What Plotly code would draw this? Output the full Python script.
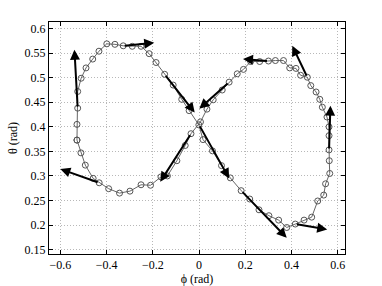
import plotly.graph_objects as go

# path samples (phi, theta) in rad
phi = [-0.528, -0.528, -0.525, -0.525, -0.510, -0.489, -0.460, -0.433, -0.399, -0.364,
       -0.328, -0.289, -0.251, -0.216, -0.186, -0.149, -0.112, -0.075, -0.043, -0.001,
       0.017, 0.058, 0.097, 0.135, 0.182, 0.219, 0.259, 0.302, 0.344, 0.379,
       0.416, 0.454, 0.487, 0.513, 0.539, 0.547, 0.565, 0.563, 0.562, 0.562,
       0.562, 0.553, 0.533, 0.522, 0.506, 0.483, 0.468, 0.439, 0.419, 0.392,
       0.365, 0.330, 0.300, 0.262, 0.223, 0.192, 0.165, 0.130, 0.100, 0.061,
       0.034, 0.006, -0.035, -0.060, -0.096, -0.137, -0.165, -0.210, -0.251, -0.299,
       -0.344, -0.391, -0.432, -0.458, -0.492, -0.511, -0.528]
theta = [0.373, 0.405, 0.438, 0.472, 0.499, 0.520, 0.538, 0.554, 0.569, 0.568,
         0.565, 0.564, 0.564, 0.549, 0.531, 0.507, 0.485, 0.456, 0.433, 0.404,
         0.374, 0.351, 0.321, 0.296, 0.270, 0.253, 0.231, 0.219, 0.210, 0.195,
         0.202, 0.210, 0.216, 0.249, 0.261, 0.284, 0.305, 0.331, 0.353, 0.382,
         0.400, 0.420, 0.440, 0.456, 0.471, 0.484, 0.501, 0.505, 0.519, 0.520,
         0.535, 0.535, 0.534, 0.533, 0.533, 0.517, 0.508, 0.491, 0.475, 0.455,
         0.436, 0.410, 0.386, 0.362, 0.331, 0.300, 0.298, 0.281, 0.282, 0.269,
         0.265, 0.274, 0.286, 0.295, 0.322, 0.347, 0.373]

# velocity arrows: tail (phi, theta) -> tip (phi, theta)
arrow_tail_phi = [-0.525, -0.328, -0.149, 0.130, 0.300, 0.468, 0.562, 0.416, 0.182, 0.000, -0.432, -0.035]
arrow_tail_theta = [0.438, 0.565, 0.507, 0.491, 0.534, 0.501, 0.353, 0.202, 0.270, 0.404, 0.286, 0.386]
arrow_tip_phi = [-0.539, -0.194, -0.019, 0.001, 0.190, 0.403, 0.568, 0.554, 0.379, 0.130, -0.600, -0.168]
arrow_tip_theta = [0.557, 0.571, 0.429, 0.437, 0.538, 0.565, 0.443, 0.191, 0.174, 0.295, 0.314, 0.288]

x_ticks = [-0.6, -0.4, -0.2, 0, 0.2, 0.4, 0.6]
x_labels = ["\u22120.6", "\u22120.4", "\u22120.2", "0", "0.2", "0.4", "0.6"]
y_ticks = [0.15, 0.2, 0.25, 0.3, 0.35, 0.4, 0.45, 0.5, 0.55, 0.6]
y_labels = ["0.15", "0.2", "0.25", "0.3", "0.35", "0.4", "0.45", "0.5", "0.55", "0.6"]

fig = go.Figure()
fig.add_trace(go.Scatter(
    x=phi, y=theta, mode="lines+markers",
    line=dict(color="#666666", width=1),
    marker=dict(symbol="circle-open", size=6, color="#555555", line=dict(width=1, color="#555555")),
    hoverinfo="skip", showlegend=False,
))

for tx, ty, hx, hy in zip(arrow_tail_phi, arrow_tail_theta, arrow_tip_phi, arrow_tip_theta):
    fig.add_annotation(
        x=hx, y=hy, ax=tx, ay=ty, xref="x", yref="y", axref="x", ayref="y",
        text="", showarrow=True, arrowhead=2, arrowsize=1.0, arrowwidth=2,
        arrowcolor="black", standoff=0, startstandoff=0,
    )

font = dict(family="Liberation Serif", size=12, color="black")
axis_common = dict(
    showline=True, linecolor="black", linewidth=1, mirror="ticks",
    ticks="inside", ticklen=4, tickcolor="black",
    showgrid=True, gridcolor="#b8b8b8", griddash="1px,2px", gridwidth=1,
    zeroline=False, tickfont=font, automargin=False,
)
fig.update_xaxes(range=[-0.649, 0.631], tickvals=x_ticks, ticktext=x_labels,
                 title=dict(text="\u03d5 (rad)", font=font, standoff=2), **axis_common)
fig.update_yaxes(range=[0.141, 0.6135], tickvals=y_ticks, ticktext=y_labels,
                 title=dict(text="\u03b8 (rad)", font=font, standoff=4), **axis_common)
fig.update_layout(
    width=382, height=286,
    margin=dict(l=49, r=37, t=22, b=32),
    paper_bgcolor="white", plot_bgcolor="white",
    font=font,
)
fig.write_html(
    "out.html",
    config={"displayModeBar": False, "staticPlot": True},
    post_script="document.body.style.margin='0px';document.body.style.padding='0px';document.body.style.overflow='hidden';",
)
